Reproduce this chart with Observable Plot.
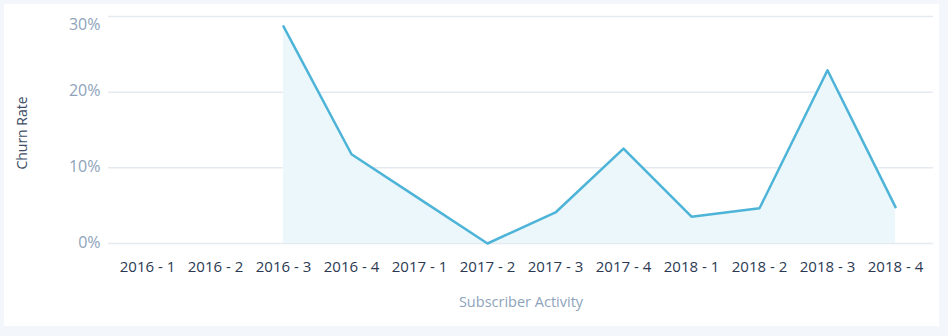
<!DOCTYPE html>
<html>
<head>
<meta charset="utf-8">
<script src="https://cdn.jsdelivr.net/npm/d3@7"></script>
<script src="https://cdn.jsdelivr.net/npm/@observablehq/plot@0.6"></script>
<style>
  html, body { margin: 0; padding: 0; background: #f3f6fa; }
  #wrap { position: relative; width: 948px; height: 336px; overflow: hidden; }
  #panel { position: absolute; left: 4px; top: 4px; width: 935px; height: 322px; background: #ffffff; }
  #chart { position: absolute; left: 0; top: 0; }
  svg { font-family: "Open Sans", sans-serif; }
</style>
</head>
<body>
<div id="wrap"><div id="panel"></div><div id="chart"></div></div>
<script>
const quarters = ["2016 - 1","2016 - 2","2016 - 3","2016 - 4","2017 - 1","2017 - 2","2017 - 3","2017 - 4","2018 - 1","2018 - 2","2018 - 3","2018 - 4"];
const churnRate = [null, null, 28.7, 11.8, 5.9, 0, 4.1, 12.55, 3.55, 4.65, 22.9, 4.8];
const yTicks = [0, 10, 20];
const yTopTick = [30];
const xTitle = "Subscriber Activity";
const yTitle = "Churn Rate";

const data = quarters.map((q, i) => ({q, v: churnRate[i]}));
const defined = data.filter(d => d.v != null);

const chart = Plot.plot({
  width: 948,
  height: 336,
  marginLeft: 108,
  marginRight: 15,
  marginTop: 16,
  marginBottom: 93,
  style: {background: "transparent", fontFamily: "Open Sans, sans-serif", overflow: "visible"},
  x: {type: "point", domain: quarters, padding: 0.55, axis: null},
  y: {domain: [0, 30], axis: null},
  marks: [
    Plot.ruleY([...yTicks, ...yTopTick], {stroke: "#e5eaf0", strokeWidth: 1.5}),
    Plot.areaY(defined, {x: "q", y: "v", fill: "#ebf7fa", curve: "linear"}),
    Plot.lineY(defined, {x: "q", y: "v", stroke: "#4db4d8", strokeWidth: 2.5, curve: "linear"}),
    Plot.axisX({tickSize: 0, tickPadding: 18, fontSize: 15, color: "#2b3a52", label: null}),
    Plot.axisY(yTicks, {tickSize: 0, tickPadding: 8, fontSize: 16, color: "#8ea3bb", tickFormat: d => d + "%", label: null, dy: -1}),
    Plot.axisY(yTopTick, {tickSize: 0, tickPadding: 8, fontSize: 16, color: "#8ea3bb", tickFormat: d => d + "%", label: null, dy: 8}),
    Plot.text([xTitle], {frameAnchor: "bottom", dy: 59, text: d => d, fontSize: 14.5, fill: "#8ea3bb", textAnchor: "middle", lineAnchor: "middle"}),
    Plot.text([yTitle], {frameAnchor: "left", dx: -86, dy: 3, text: d => d, fontSize: 14, fill: "#3e4d66", rotate: -90, textAnchor: "middle", lineAnchor: "middle"})
  ]
});
document.getElementById("chart").appendChild(chart);
</script>
</body>
</html>
